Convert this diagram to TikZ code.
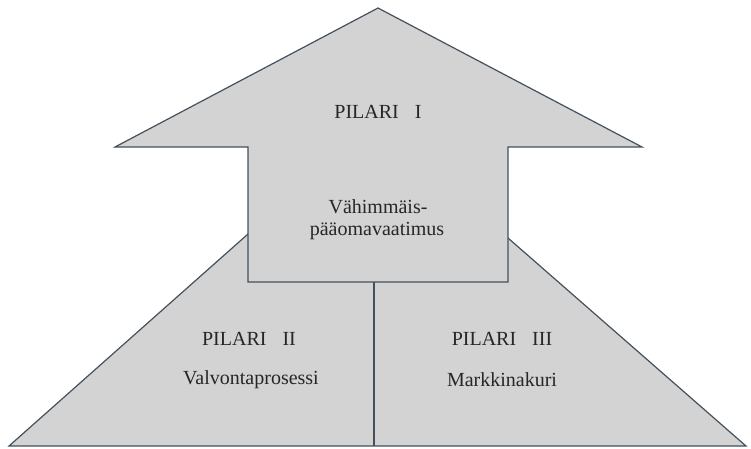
\documentclass[tikz,border=0pt]{standalone}
\usepackage{fontspec}
\setmainfont{Liberation Serif}
\definecolor{shapefill}{HTML}{D3D3D3}
\definecolor{edgecol}{HTML}{44505C}
\begin{document}
\begin{tikzpicture}[x=1pt,y=-1pt,
  shapestyle/.style={fill=shapefill,draw=edgecol,line width=1.2pt,line join=miter},
  lbl/.style={font=\fontsize{20}{24}\selectfont,text=black!85,align=center,inner sep=0pt}]
\useasboundingbox (0,0) rectangle (751,448);
% base trapezoid
\coordinate (bl) at (9,446);
\coordinate (br) at (746,446);
\coordinate (tl) at (248,234);
\coordinate (tr) at (508,238);
\draw[shapestyle] (bl) -- (tl) -- (tr) -- (br) -- cycle;
% divider
\coordinate (dtop) at (374,282);
\coordinate (dbot) at (374,446);
\draw[edgecol,line width=1.2pt] (dtop) -- (dbot);
% arrow
\coordinate (apex) at (378,8);
\coordinate (wl) at (115,147);
\coordinate (wr) at (642,147);
\coordinate (sl) at (248,147);
\coordinate (sr) at (508,147);
\coordinate (sbl) at (248,282);
\coordinate (sbr) at (508,282);
\draw[shapestyle] (apex) -- (wr) -- (sr) -- (sbr) -- (sbl) -- (sl) -- (wl) -- cycle;
% labels
\node[lbl] (p1) at (378,112) {PILARI\hspace{0.8em}I};
\node[lbl] (p1a) at (378,207) {Vähimmäis-};
\node[lbl] (p1b) at (377,231) {pääomavaatimus};
\node[lbl] (p2) at (249,339) {PILARI\hspace{0.8em}II};
\node[lbl] (p2a) at (251,380) {Valvontaprosessi};
\node[lbl] (p3) at (502,339) {PILARI\hspace{0.8em}III};
\node[lbl] (p3a) at (502,380) {Markkinakuri};
\end{tikzpicture}
\end{document}
